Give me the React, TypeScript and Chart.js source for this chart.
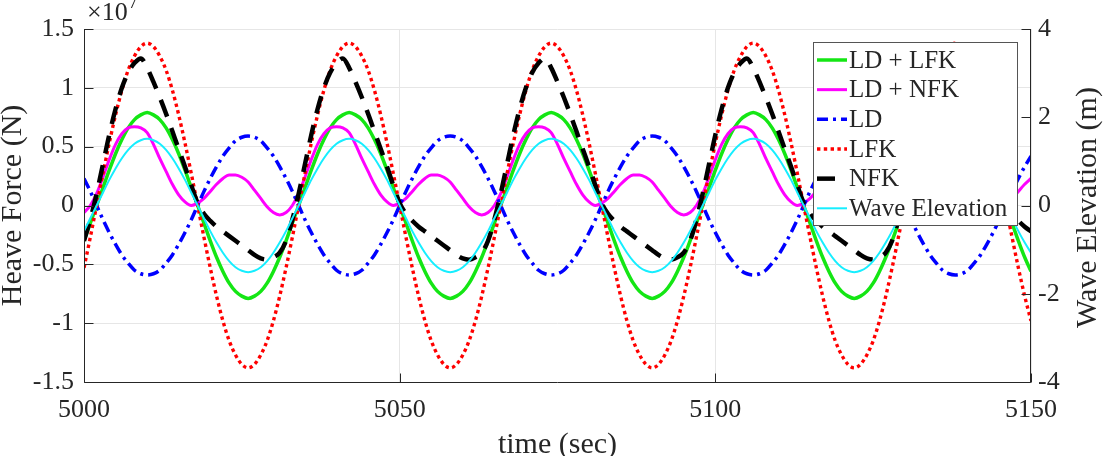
import { useEffect, useRef } from "react";
import { Chart, registerables } from "chart.js";

Chart.register(...registerables);

// Simulation time, one sample per second (s)
const time = [
  5000, 5001, 5002, 5003, 5004, 5005, 5006, 5007, 5008, 5009,
  5010, 5011, 5012, 5013, 5014, 5015, 5016, 5017, 5018, 5019,
  5020, 5021, 5022, 5023, 5024, 5025, 5026, 5027, 5028, 5029,
  5030, 5031, 5032, 5033, 5034, 5035, 5036, 5037, 5038, 5039,
  5040, 5041, 5042, 5043, 5044, 5045, 5046, 5047, 5048, 5049,
  5050, 5051, 5052, 5053, 5054, 5055, 5056, 5057, 5058, 5059,
  5060, 5061, 5062, 5063, 5064, 5065, 5066, 5067, 5068, 5069,
  5070, 5071, 5072, 5073, 5074, 5075, 5076, 5077, 5078, 5079,
  5080, 5081, 5082, 5083, 5084, 5085, 5086, 5087, 5088, 5089,
  5090, 5091, 5092, 5093, 5094, 5095, 5096, 5097, 5098, 5099,
  5100, 5101, 5102, 5103, 5104, 5105, 5106, 5107, 5108, 5109,
  5110, 5111, 5112, 5113, 5114, 5115, 5116, 5117, 5118, 5119,
  5120, 5121, 5122, 5123, 5124, 5125, 5126, 5127, 5128, 5129,
  5130, 5131, 5132, 5133, 5134, 5135, 5136, 5137, 5138, 5139,
  5140, 5141, 5142, 5143, 5144, 5145, 5146, 5147, 5148, 5149,
  5150,
];

// Heave force components, in units of 1e7 N
const ldLfk = [
  -0.3, -0.15, 0, 0.15, 0.3, 0.44, 0.56, 0.66, 0.73, 0.77,
  0.79, 0.77, 0.73, 0.66, 0.56, 0.44, 0.3, 0.15, 0, -0.15, -0.3, -0.44, -0.56, -0.66, -0.73, -0.77, -0.79, -0.77, -0.73, -0.66, -0.56, -0.44, -0.3, -0.15, 0, 0.15, 0.3, 0.44, 0.56, 0.66, 0.73, 0.77,
  0.79, 0.77, 0.73, 0.66, 0.56, 0.44, 0.3, 0.15, 0, -0.15, -0.3, -0.44, -0.56, -0.66, -0.73, -0.77, -0.79, -0.77, -0.73, -0.66, -0.56, -0.44, -0.3, -0.15, 0, 0.15, 0.3, 0.44, 0.56, 0.66, 0.73, 0.77,
  0.79, 0.77, 0.73, 0.66, 0.56, 0.44, 0.3, 0.15, 0, -0.15, -0.3, -0.44, -0.56, -0.66, -0.73, -0.77, -0.79, -0.77, -0.73, -0.66, -0.56, -0.44, -0.3, -0.15, 0, 0.15, 0.3, 0.44, 0.56, 0.66, 0.73, 0.77,
  0.79, 0.77, 0.73, 0.66, 0.56, 0.44, 0.3, 0.15, 0, -0.15, -0.3, -0.44, -0.56, -0.66, -0.73, -0.77, -0.79, -0.77, -0.73, -0.66, -0.56, -0.44, -0.3, -0.15, 0, 0.15, 0.3, 0.44, 0.56, 0.66, 0.73, 0.77,
  0.79, 0.77, 0.73, 0.66, 0.56, 0.44, 0.3, 0.15, 0, -0.15, -0.3, -0.44, -0.56,
];

const ldNfk = [
  -0.06, 0, 0.1, 0.24, 0.39, 0.52, 0.61, 0.66, 0.67, 0.66,
  0.62, 0.52, 0.4, 0.29, 0.18, 0.09, 0.03, 0, 0.02, 0.06, 0.12, 0.18, 0.23, 0.26, 0.26, 0.24, 0.2, 0.13, 0.06, -0.01, -0.06, -0.08, -0.06, 0, 0.1, 0.24, 0.39, 0.52, 0.61, 0.66, 0.67, 0.66,
  0.62, 0.52, 0.4, 0.29, 0.18, 0.09, 0.03, 0, 0.02, 0.06, 0.12, 0.18, 0.23, 0.26, 0.26, 0.24, 0.2, 0.13, 0.06, -0.01, -0.06, -0.08, -0.06, 0, 0.1, 0.24, 0.39, 0.52, 0.61, 0.66, 0.67, 0.66,
  0.62, 0.52, 0.4, 0.29, 0.18, 0.09, 0.03, 0, 0.02, 0.06, 0.12, 0.18, 0.23, 0.26, 0.26, 0.24, 0.2, 0.13, 0.06, -0.01, -0.06, -0.08, -0.06, 0, 0.1, 0.24, 0.39, 0.52, 0.61, 0.66, 0.67, 0.66,
  0.62, 0.52, 0.4, 0.29, 0.18, 0.09, 0.03, 0, 0.02, 0.06, 0.12, 0.18, 0.23, 0.26, 0.26, 0.24, 0.2, 0.13, 0.06, -0.01, -0.06, -0.08, -0.06, 0, 0.1, 0.24, 0.39, 0.52, 0.61, 0.66, 0.67, 0.66,
  0.62, 0.52, 0.4, 0.29, 0.18, 0.09, 0.03, 0, 0.02, 0.06, 0.12, 0.18, 0.23,
];

const ld = [
  0.23, 0.12, 0, -0.12, -0.23, -0.33, -0.42, -0.49, -0.55, -0.58,
  -0.59, -0.58, -0.55, -0.49, -0.42, -0.33, -0.23, -0.12, 0, 0.12, 0.23, 0.33, 0.42, 0.49, 0.55, 0.58, 0.59, 0.58, 0.55, 0.49, 0.42, 0.33, 0.23, 0.12, 0, -0.12, -0.23, -0.33, -0.42, -0.49, -0.55, -0.58,
  -0.59, -0.58, -0.55, -0.49, -0.42, -0.33, -0.23, -0.12, 0, 0.12, 0.23, 0.33, 0.42, 0.49, 0.55, 0.58, 0.59, 0.58, 0.55, 0.49, 0.42, 0.33, 0.23, 0.12, 0, -0.12, -0.23, -0.33, -0.42, -0.49, -0.55, -0.58,
  -0.59, -0.58, -0.55, -0.49, -0.42, -0.33, -0.23, -0.12, 0, 0.12, 0.23, 0.33, 0.42, 0.49, 0.55, 0.58, 0.59, 0.58, 0.55, 0.49, 0.42, 0.33, 0.23, 0.12, 0, -0.12, -0.23, -0.33, -0.42, -0.49, -0.55, -0.58,
  -0.59, -0.58, -0.55, -0.49, -0.42, -0.33, -0.23, -0.12, 0, 0.12, 0.23, 0.33, 0.42, 0.49, 0.55, 0.58, 0.59, 0.58, 0.55, 0.49, 0.42, 0.33, 0.23, 0.12, 0, -0.12, -0.23, -0.33, -0.42, -0.49, -0.55, -0.58,
  -0.59, -0.58, -0.55, -0.49, -0.42, -0.33, -0.23, -0.12, 0, 0.12, 0.23, 0.33, 0.42,
];

const lfk = [
  -0.53, -0.27, 0, 0.27, 0.53, 0.77, 0.98, 1.15, 1.27, 1.35,
  1.38, 1.35, 1.27, 1.15, 0.98, 0.77, 0.53, 0.27, 0, -0.27, -0.53, -0.77, -0.98, -1.15, -1.27, -1.35, -1.38, -1.35, -1.27, -1.15, -0.98, -0.77, -0.53, -0.27, 0, 0.27, 0.53, 0.77, 0.98, 1.15, 1.27, 1.35,
  1.38, 1.35, 1.27, 1.15, 0.98, 0.77, 0.53, 0.27, 0, -0.27, -0.53, -0.77, -0.98, -1.15, -1.27, -1.35, -1.38, -1.35, -1.27, -1.15, -0.98, -0.77, -0.53, -0.27, 0, 0.27, 0.53, 0.77, 0.98, 1.15, 1.27, 1.35,
  1.38, 1.35, 1.27, 1.15, 0.98, 0.77, 0.53, 0.27, 0, -0.27, -0.53, -0.77, -0.98, -1.15, -1.27, -1.35, -1.38, -1.35, -1.27, -1.15, -0.98, -0.77, -0.53, -0.27, 0, 0.27, 0.53, 0.77, 0.98, 1.15, 1.27, 1.35,
  1.38, 1.35, 1.27, 1.15, 0.98, 0.77, 0.53, 0.27, 0, -0.27, -0.53, -0.77, -0.98, -1.15, -1.27, -1.35, -1.38, -1.35, -1.27, -1.15, -0.98, -0.77, -0.53, -0.27, 0, 0.27, 0.53, 0.77, 0.98, 1.15, 1.27, 1.35,
  1.38, 1.35, 1.27, 1.15, 0.98, 0.77, 0.53, 0.27, 0, -0.27, -0.53, -0.77, -0.98,
];

const nfk = [
  -0.3, -0.12, 0.1, 0.35, 0.6, 0.82, 1.0, 1.13, 1.21, 1.25,
  1.17, 1.05, 0.92, 0.78, 0.63, 0.48, 0.33, 0.17, 0.02, -0.07, -0.13, -0.18, -0.22, -0.26, -0.3, -0.34, -0.38, -0.42, -0.45, -0.46, -0.44, -0.4, -0.3, -0.12, 0.1, 0.35, 0.6, 0.82, 1.0, 1.13, 1.21, 1.25,
  1.17, 1.05, 0.92, 0.78, 0.63, 0.48, 0.33, 0.17, 0.02, -0.07, -0.13, -0.18, -0.22, -0.26, -0.3, -0.34, -0.38, -0.42, -0.45, -0.46, -0.44, -0.4, -0.3, -0.12, 0.1, 0.35, 0.6, 0.82, 1.0, 1.13, 1.21, 1.25,
  1.17, 1.05, 0.92, 0.78, 0.63, 0.48, 0.33, 0.17, 0.02, -0.07, -0.13, -0.18, -0.22, -0.26, -0.3, -0.34, -0.38, -0.42, -0.45, -0.46, -0.44, -0.4, -0.3, -0.12, 0.1, 0.35, 0.6, 0.82, 1.0, 1.13, 1.21, 1.25,
  1.17, 1.05, 0.92, 0.78, 0.63, 0.48, 0.33, 0.17, 0.02, -0.07, -0.13, -0.18, -0.22, -0.26, -0.3, -0.34, -0.38, -0.42, -0.45, -0.46, -0.44, -0.4, -0.3, -0.12, 0.1, 0.35, 0.6, 0.82, 1.0, 1.13, 1.21, 1.25,
  1.17, 1.05, 0.92, 0.78, 0.63, 0.48, 0.33, 0.17, 0.02, -0.07, -0.13, -0.18, -0.22,
];

// Incident wave elevation (m)
const waveElevation = [
  -0.58, -0.29, 0, 0.29, 0.58, 0.84, 1.07, 1.26, 1.4, 1.48,
  1.51, 1.48, 1.4, 1.26, 1.07, 0.84, 0.58, 0.29, 0, -0.29, -0.58, -0.84, -1.07, -1.26, -1.4, -1.48, -1.51, -1.48, -1.4, -1.26, -1.07, -0.84, -0.58, -0.29, 0, 0.29, 0.58, 0.84, 1.07, 1.26, 1.4, 1.48,
  1.51, 1.48, 1.4, 1.26, 1.07, 0.84, 0.58, 0.29, 0, -0.29, -0.58, -0.84, -1.07, -1.26, -1.4, -1.48, -1.51, -1.48, -1.4, -1.26, -1.07, -0.84, -0.58, -0.29, 0, 0.29, 0.58, 0.84, 1.07, 1.26, 1.4, 1.48,
  1.51, 1.48, 1.4, 1.26, 1.07, 0.84, 0.58, 0.29, 0, -0.29, -0.58, -0.84, -1.07, -1.26, -1.4, -1.48, -1.51, -1.48, -1.4, -1.26, -1.07, -0.84, -0.58, -0.29, 0, 0.29, 0.58, 0.84, 1.07, 1.26, 1.4, 1.48,
  1.51, 1.48, 1.4, 1.26, 1.07, 0.84, 0.58, 0.29, 0, -0.29, -0.58, -0.84, -1.07, -1.26, -1.4, -1.48, -1.51, -1.48, -1.4, -1.26, -1.07, -0.84, -0.58, -0.29, 0, 0.29, 0.58, 0.84, 1.07, 1.26, 1.4, 1.48,
  1.51, 1.48, 1.4, 1.26, 1.07, 0.84, 0.58, 0.29, 0, -0.29, -0.58, -0.84, -1.07,
];

const seriesNames = ["LD + LFK", "LD + NFK", "LD", "LFK", "NFK", "Wave Elevation"];
const timeTicks = [5000, 5050, 5100, 5150];
const forceTicks = [-1.5, -1, -0.5, 0, 0.5, 1, 1.5];
const elevationTicks = [-4, -2, 0, 2, 4];

const FONT = '"Liberation Serif", "Times New Roman", serif';
const INK = "#262626";
const GRID = "#e6e6e6";

const lineStyles = [
  { color: "#14e614", width: 3.5, dash: [] as number[] },
  { color: "#ff00ff", width: 3, dash: [] as number[] },
  { color: "#0000ff", width: 3.5, dash: [11, 5, 3, 5] },
  { color: "#ff0000", width: 3.4, dash: [3.4, 3.4] },
  { color: "#000000", width: 4.5, dash: [18, 12] },
  { color: "#16eeff", width: 2, dash: [] as number[] },
];

const decorations = {
  id: "decorations",
  afterDatasetsDraw(chart: any) {
    const { ctx, chartArea: a } = chart;
    const sx = chart.scales.x;
    const sl = chart.scales.yForce;
    const sr = chart.scales.yElev;
    const L = Math.round(a.left) + 0.5;
    const R = Math.round(a.right) - 0.5;
    const B = Math.round(a.bottom) + 0.5;
    const T = Math.round(a.top);

    ctx.save();
    ctx.setLineDash([]);
    ctx.strokeStyle = INK;
    ctx.lineWidth = 1;

    // axis lines (left, bottom, right)
    ctx.beginPath();
    ctx.moveTo(L, T);
    ctx.lineTo(L, B);
    ctx.lineTo(R, B);
    ctx.lineTo(R, T);
    ctx.stroke();

    // inward tick marks
    const tl = 9;
    ctx.beginPath();
    for (const t of timeTicks) {
      const x = Math.round(sx.getPixelForValue(t)) + 0.5;
      ctx.moveTo(x, B);
      ctx.lineTo(x, B - tl);
    }
    for (const v of forceTicks) {
      const y = Math.round(sl.getPixelForValue(v)) + 0.5;
      ctx.moveTo(L, y);
      ctx.lineTo(L + tl, y);
    }
    for (const v of elevationTicks) {
      const y = Math.round(sr.getPixelForValue(v)) + 0.5;
      ctx.moveTo(R, y);
      ctx.lineTo(R - tl, y);
    }
    ctx.stroke();

    // tick labels
    ctx.fillStyle = INK;
    ctx.font = `26px ${FONT}`;
    ctx.textBaseline = "middle";
    ctx.textAlign = "right";
    for (const v of forceTicks) ctx.fillText(String(v), a.left - 10, sl.getPixelForValue(v));
    ctx.textAlign = "left";
    for (const v of elevationTicks) ctx.fillText(String(v), a.right + 7, sr.getPixelForValue(v));
    ctx.textAlign = "center";
    ctx.textBaseline = "alphabetic";
    for (const t of timeTicks) ctx.fillText(String(t), sx.getPixelForValue(t), a.bottom + 35);

    // exponent of the force axis
    ctx.textAlign = "left";
    ctx.font = `26px ${FONT}`;
    ctx.fillText("\u00d710", a.left + 3, 20);
    const w = ctx.measureText("\u00d710").width;
    ctx.font = `18px ${FONT}`;
    ctx.fillText("7", a.left + 4 + w, 8);

    // axis titles
    ctx.font = `30px ${FONT}`;
    ctx.textAlign = "center";
    ctx.fillText("time (sec)", (a.left + a.right) / 2, 453);
    ctx.save();
    ctx.translate(21, (a.top + a.bottom) / 2);
    ctx.rotate(-Math.PI / 2);
    ctx.fillText("Heave Force (N)", 0, 0);
    ctx.restore();
    ctx.save();
    ctx.translate(1096, (a.top + a.bottom) / 2 + 2);
    ctx.rotate(-Math.PI / 2);
    ctx.fillText("Wave Elevation (m)", 0, 0);
    ctx.restore();

    // legend
    const bx = 813.5, by = 42.5, bw = 204, bh = 183;
    ctx.fillStyle = "#ffffff";
    ctx.fillRect(bx, by, bw, bh);
    ctx.strokeStyle = "#555555";
    ctx.lineWidth = 1;
    ctx.strokeRect(bx, by, bw, bh);
    ctx.font = `25px ${FONT}`;
    ctx.textAlign = "left";
    ctx.textBaseline = "middle";
    seriesNames.forEach((name, i) => {
      const s = lineStyles[i];
      const y = 60 + i * 29.66;
      ctx.strokeStyle = s.color;
      ctx.lineWidth = s.width;
      ctx.setLineDash(s.dash);
      ctx.lineCap = "butt";
      ctx.beginPath();
      ctx.moveTo(817, y);
      ctx.lineTo(847, y);
      ctx.stroke();
      ctx.setLineDash([]);
      ctx.fillStyle = INK;
      ctx.fillText(name, 849, y + 1);
    });

    ctx.restore();
  },
};

export default function App() {
  const canvasRef = useRef<HTMLCanvasElement>(null);

  useEffect(() => {
    const canvas = canvasRef.current;
    if (!canvas) return;
    const series = [ldLfk, ldNfk, ld, lfk, nfk, waveElevation];
    const chart = new Chart(canvas, {
      type: "line",
      data: {
        datasets: series.map((values, i) => ({
          label: seriesNames[i],
          data: time.map((t, k) => ({ x: t, y: values[k] })),
          yAxisID: i === 5 ? "yElev" : "yForce",
          borderColor: lineStyles[i].color,
          backgroundColor: lineStyles[i].color,
          borderWidth: lineStyles[i].width,
          borderDash: lineStyles[i].dash,
          borderCapStyle: "butt",
          borderJoinStyle: "round",
          cubicInterpolationMode: "monotone",
          pointRadius: 0,
          fill: false,
          clip: 0,
          order: 5 - i,
        })),
      },
      options: {
        responsive: false,
        animation: false,
        devicePixelRatio: 1,
        layout: { padding: { left: 84, right: 80, top: 29, bottom: 74 } },
        plugins: { legend: { display: false }, tooltip: { enabled: false } },
        scales: {
          x: {
            type: "linear",
            min: 5000,
            max: 5150,
            afterBuildTicks: (s: any) => {
              s.ticks = timeTicks.map((v) => ({ value: v }));
            },
            afterFit: (s: any) => {
              s.height = 0;
            },
            ticks: { display: false },
            border: { display: false },
            grid: { color: GRID, drawTicks: false, lineWidth: 1 },
          },
          yForce: {
            type: "linear",
            position: "left",
            min: -1.5,
            max: 1.5,
            afterBuildTicks: (s: any) => {
              s.ticks = forceTicks.map((v) => ({ value: v }));
            },
            afterFit: (s: any) => {
              s.width = 0;
            },
            ticks: { display: false },
            border: { display: false },
            grid: { color: GRID, drawTicks: false, lineWidth: 1 },
          },
          yElev: {
            type: "linear",
            position: "right",
            min: -4,
            max: 4,
            afterBuildTicks: (s: any) => {
              s.ticks = elevationTicks.map((v) => ({ value: v }));
            },
            afterFit: (s: any) => {
              s.width = 0;
            },
            ticks: { display: false },
            border: { display: false },
            grid: { display: false, drawTicks: false },
          },
        },
      },
      plugins: [decorations],
    } as any);
    return () => chart.destroy();
  }, []);

  return (
    <div style={{ position: "fixed", left: 0, top: 0, width: 1111, height: 456, background: "#ffffff" }}>
      <canvas ref={canvasRef} width={1111} height={456} style={{ display: "block" }} />
    </div>
  );
}
